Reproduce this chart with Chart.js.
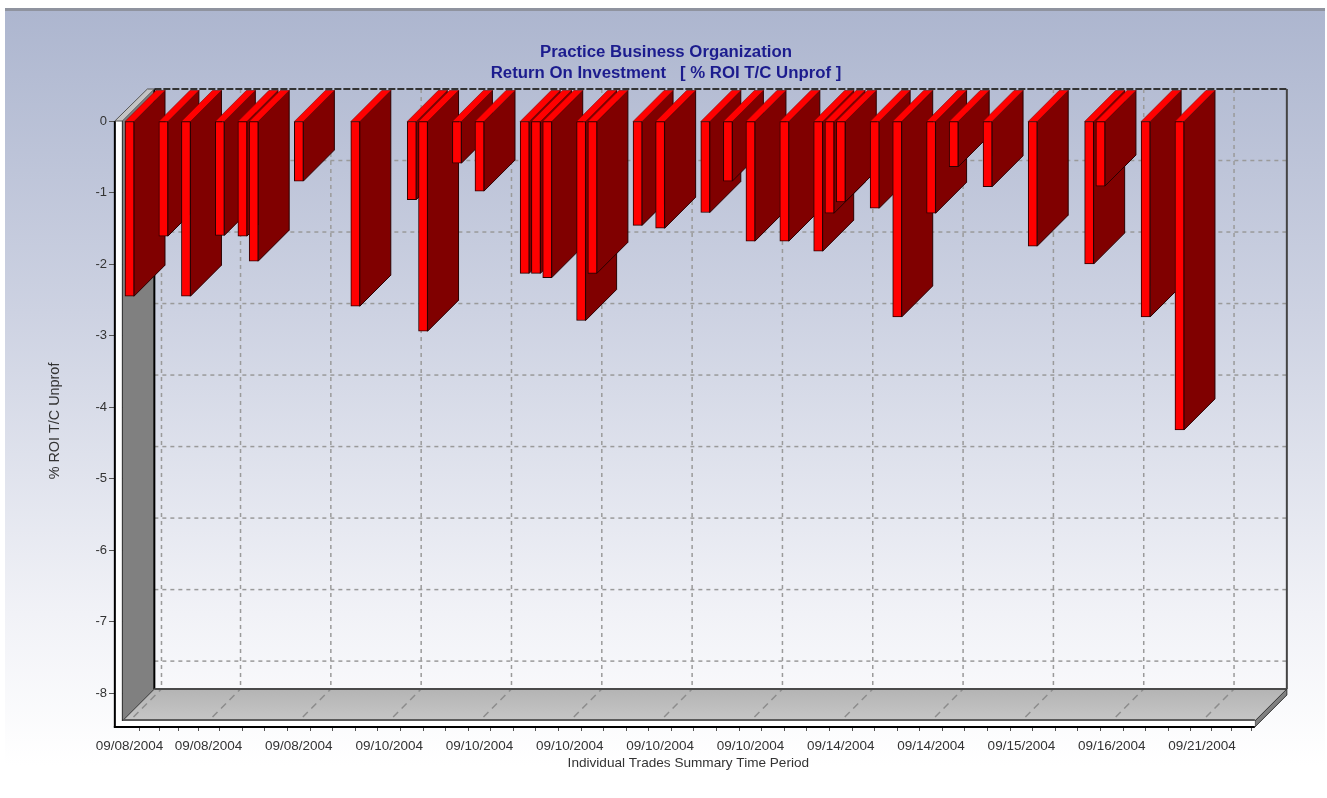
<!DOCTYPE html>
<html>
<head>
<meta charset="utf-8">
<title>Return On Investment</title>
<style>
  html, body { margin: 0; padding: 0; background: #fff; }
  canvas { display: block; }
</style>
<script src="https://cdn.jsdelivr.net/npm/chart.js@4"></script>
</head>
<body>
<canvas id="roiChart" width="1327" height="798"></canvas>
<script>
// trade slots that have a bar (the axis has 100 slots, most are empty)
const barSlots = [0, 3, 5, 8, 10, 11, 15, 20, 25, 26, 29, 31, 35, 36, 37, 40, 41, 45,
                  47, 51, 53, 55, 58, 61, 62, 63, 66, 68, 71, 73, 76, 80, 85, 86, 90, 93];
const roiValues = [-2.45, -1.61, -2.45, -1.60, -1.61, -1.96, -0.84, -2.59, -1.10, -2.94, -0.59, -0.98,
                   -2.13, -2.13, -2.19, -2.79, -2.13, -1.46, -1.50, -1.28, -0.84, -1.68, -1.68, -1.82,
                   -1.29, -1.13, -1.22, -2.74, -1.29, -0.64, -0.92, -1.75, -2.00, -0.91, -2.74, -4.32];

const tickSlots = [0, 7, 15, 23, 31, 39, 47, 55, 63, 71, 79, 87, 95];
const tickLabels = ['09/08/2004', '09/08/2004', '09/08/2004', '09/10/2004', '09/10/2004', '09/10/2004',
                    '09/10/2004', '09/10/2004', '09/14/2004', '09/14/2004', '09/15/2004', '09/16/2004', '09/21/2004'];
const minorTickSlots = [1.75, 3.5, 5.25, 9, 11, 13, 17, 19, 21, 25, 27, 29, 33, 35, 37, 41, 43, 45, 49, 51, 53,
                        57, 59, 61, 65, 67, 69, 73, 75, 77, 81, 83, 85, 89, 91, 93, 96.75, 98.5];
const yTicks = [0, -1, -2, -3, -4, -5, -6, -7, -8];

const chartTitle = ['Practice Business Organization', 'Return On Investment   [ % ROI T/C Unprof ]'];
const yTitle = '% ROI T/C Unprof';
const xTitle = 'Individual Trades Summary Time Period';

const FONT = '"Liberation Sans", Arial, sans-serif';
const WALL_DEPTH = 32;
const BAR_DEPTH = 31;

function poly(ctx, pts, fill, stroke, lw) {
  ctx.beginPath();
  pts.forEach((p, i) => i ? ctx.lineTo(p[0], p[1]) : ctx.moveTo(p[0], p[1]));
  ctx.closePath();
  if (fill) { ctx.fillStyle = fill; ctx.fill(); }
  if (stroke) { ctx.strokeStyle = stroke; ctx.lineWidth = lw || 1; ctx.stroke(); }
}

function line(ctx, x1, y1, x2, y2, color, lw, dash) {
  ctx.beginPath();
  ctx.setLineDash(dash || []);
  ctx.moveTo(x1, y1);
  ctx.lineTo(x2, y2);
  ctx.strokeStyle = color;
  ctx.lineWidth = lw;
  ctx.stroke();
  ctx.setLineDash([]);
}

// panel behind everything
const backdrop = {
  id: 'backdrop',
  beforeDraw(chart) {
    const ctx = chart.ctx;
    const g = ctx.createLinearGradient(0, 10, 0, 765);
    g.addColorStop(0, '#adb6cf');
    g.addColorStop(0.4, '#cdd2e2');
    g.addColorStop(0.8, '#f1f2f7');
    g.addColorStop(1, '#ffffff');
    ctx.fillStyle = g;
    ctx.fillRect(5, 9, 1320, 770);
    ctx.fillStyle = '#8f939f';
    ctx.fillRect(5, 8, 1320, 3);
  }
};

// the 3d box and the side faces of the bars
const box3d = {
  id: 'box3d',
  beforeDatasetsDraw(chart) {
    const ctx = chart.ctx;
    const a = chart.chartArea;
    const sx = chart.scales.x, sy = chart.scales.y;
    const d = WALL_DEPTH;
    const left = a.left - 1.5, right = a.right + 2;
    const backL = left + d, backR = right + d;
    const backT = a.top - d, backB = a.bottom - d;
    const dash = [4, 4];
    ctx.save();

    // back wall grid
    yTicks.forEach(v => {
      if (v === 0) return;
      const y = sy.getPixelForValue(v) - d;
      line(ctx, backL, y, backR, y, '#9a9a9a', 1.5, dash);
    });
    tickSlots.forEach(s => {
      const x = sx.getPixelForValue(s) + d;
      line(ctx, x, backT, x, backB, '#9a9a9a', 1.5, dash);
    });
    line(ctx, backL, backT, backR, backT, '#333333', 2, [7, 2]);
    line(ctx, backR, backT, backR, backB, '#444444', 2);

    // floor
    const fg = ctx.createLinearGradient(0, backB, 0, a.bottom);
    fg.addColorStop(0, '#b4b4b4');
    fg.addColorStop(1, '#c6c6c6');
    poly(ctx, [[left, a.bottom], [backL, backB], [backR, backB], [right, a.bottom]], fg);
    tickSlots.forEach(s => {
      const x = sx.getPixelForValue(s);
      line(ctx, x + 4, a.bottom - 4, x + d, backB, '#8c8c8c', 1.5, [7, 5]);
    });

    // left wall
    poly(ctx, [[left, a.top], [backL, backT], [backL, backB], [left, a.bottom]], '#808080');
    line(ctx, backL, backT, backL, backB, '#000000', 2);
    line(ctx, left, a.bottom, backL, backB, '#333333', 1);
    line(ctx, backL, backB, backR, backB, '#4a4a4a', 2);

    // base strip and end pieces
    poly(ctx, [[right, a.bottom], [backR, backB], [backR, backB + 6], [right, a.bottom + 6]], '#808080', '#333333', 1);
    ctx.fillStyle = '#ffffff';
    ctx.fillRect(a.left - 9, a.bottom, right - a.left + 9, 6);
    ctx.fillRect(a.left - 9, a.top, 7.5, a.bottom - a.top);
    line(ctx, left, a.bottom - 1, right, a.bottom - 1, '#5a5a5a', 2);
    line(ctx, left, a.top, left, a.bottom, '#222222', 1);
    line(ctx, a.left - 9, a.top, a.left - 9, a.bottom + 6.5, '#000000', 2);
    line(ctx, a.left - 10, a.bottom + 6, right, a.bottom + 6, '#000000', 2);
    poly(ctx, [[a.left - 9, a.top], [left, a.top], [backL, backT], [backL - 7, backT]], '#c4c4c4', '#555555', 1);

    // side and top of each bar, left to right so later bars overlap earlier ones
    const bd = BAR_DEPTH;
    chart.getDatasetMeta(0).data.forEach(el => {
      const r = el.x + el.width / 2, l = el.x - el.width / 2;
      poly(ctx, [[r, el.base], [r + bd, el.base - bd], [r + bd, el.y - bd], [r, el.y]], '#800000', '#2a0000', 1);
      poly(ctx, [[l, el.base], [l + bd, el.base - bd], [r + bd, el.base - bd], [r, el.base]], '#ff0000', '#8a0000', 0.6);
    });
    ctx.restore();
  }
};

new Chart(document.getElementById('roiChart'), {
  type: 'bar',
  data: {
    datasets: [{
      label: yTitle,
      data: barSlots.map((s, i) => ({ x: s, y: roiValues[i] })),
      backgroundColor: '#ff0000',
      borderColor: '#2a0000',
      borderWidth: 1,
      borderSkipped: false,
      barThickness: 9
    }]
  },
  options: {
    responsive: false,
    animation: false,
    layout: { padding: { left: 5, right: 0, top: 0, bottom: 0 } },
    plugins: {
      legend: { display: false },
      tooltip: { enabled: false },
      title: {
        display: true,
        text: chartTitle,
        color: '#1c1c8e',
        font: { family: FONT, size: 16.8, weight: 'bold', lineHeight: 1.25 },
        padding: { top: 42, bottom: 37 }
      }
    },
    scales: {
      x: {
        type: 'linear',
        offset: false,
        min: -0.5,
        max: 99.5,
        afterBuildTicks(s) {
          s.ticks = tickSlots.concat(minorTickSlots).sort((p, q) => p - q).map(v => ({ value: v }));
        },
        afterFit(s) { s.height = 77; },
        grid: { drawOnChartArea: false, tickLength: 10, tickColor: '#555555' },
        border: { display: false },
        ticks: {
          autoSkip: false,
          maxRotation: 0,
          minRotation: 0,
          padding: 7,
          color: '#333333',
          font: { family: FONT, size: 13.5 },
          callback(v) {
            const i = tickSlots.indexOf(v);
            return i < 0 ? '' : tickLabels[i];
          }
        },
        title: {
          display: true,
          text: xTitle,
          color: '#333333',
          font: { family: FONT, size: 13.6, lineHeight: 1.2 },
          padding: { top: 0, bottom: 27 }
        }
      },
      y: {
        min: -8.39,
        max: 0,
        afterBuildTicks(s) { s.ticks = yTicks.map(v => ({ value: v })); },
        afterFit(s) { s.width = 118.85; },
        grid: { drawOnChartArea: false, tickLength: 14.85, tickColor: '#555555' },
        border: { display: false },
        ticks: {
          padding: 2,
          color: '#333333',
          font: { family: FONT, size: 13 },
          callback: v => String(v)
        },
        title: {
          display: true,
          text: yTitle,
          color: '#333333',
          font: { family: FONT, size: 14.4, lineHeight: 1.2 },
          padding: { top: 41, bottom: 0 }
        }
      },
      // only holds the empty strip right of the plot
      rightGap: {
        position: 'right',
        grid: { display: false },
        border: { display: false },
        ticks: { display: false },
        afterFit(s) { s.width = 74.15; }
      }
    }
  },
  plugins: [backdrop, box3d]
});
</script>
</body>
</html>
